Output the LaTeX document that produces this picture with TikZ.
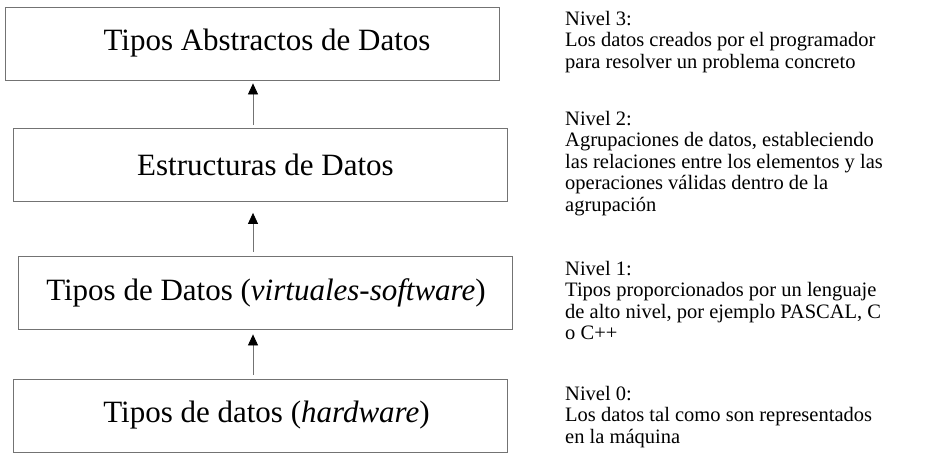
\documentclass[tikz,border=0pt]{standalone}
\usepackage{fontspec}
\setmainfont{Liberation Serif}
\usetikzlibrary{arrows.meta}
\tikzset{
	caja/.style={draw=black!55, line width=0.8pt, minimum width=494pt, minimum height=73pt, inner sep=0pt},
	rotulo/.style={inner sep=0pt, font=\fontsize{31}{37}\selectfont},
	nivel/.style={anchor=north west, align=left, inner sep=0pt, font=\fontsize{20.5}{21.4}\selectfont},
	flecha/.style={draw=black!55, line width=0.8pt, -{Triangle[width=10pt,length=11pt,color=black]}}
}

\begin{document}
\begin{tikzpicture}[x=1pt, y=-1pt]
			%%%%% START %%%%%
			\useasboundingbox (0, 0) rectangle (938, 474);
			
			\node[caja, label={[rotulo, xshift=14.5pt]center:Tipos Abstractos de Datos}] (tad) at (252.5, 43.5) {};
			\node[caja, label={[rotulo, xshift=5.5pt]center:Estructuras de Datos}] (est) at (260, 165) {};
			\node[caja, label={[rotulo, xshift=1pt]center:Tipos de Datos (\textit{virtuales-software})}] (virt) at (265, 292.5) {};
			\node[caja, label={[rotulo, xshift=6.5pt]center:Tipos de datos (\textit{hardware})}] (hard) at (260, 415.5) {};
			
			\coordinate (eje) at (253, 0);
			\draw[flecha, shorten <=3pt, shorten >=3pt] (est.north -| eje) -- (tad.south -| eje);
			\draw[flecha, shorten <=4pt, shorten >=11pt] (virt.north -| eje) -- (est.south -| eje);
			\draw[flecha, shorten <=4pt, shorten >=5pt] (hard.north -| eje) -- (virt.south -| eje);
			
			\node[nivel] (n3) at (565, 11) {Nivel 3:\\Los datos creados por el programador\\para resolver un problema concreto};
			\node[nivel] (n2) at (565, 111) {Nivel 2:\\Agrupaciones de datos, estableciendo\\las relaciones entre los elementos y las\\operaciones válidas dentro de la\\agrupación};
			\node[nivel] (n1) at (565, 261) {Nivel 1:\\Tipos proporcionados por un lenguaje\\de alto nivel, por ejemplo PASCAL, C\\o C++};
			\node[nivel] (n0) at (565, 386) {Nivel 0:\\Los datos tal como son representados\\en la máquina};
			
			%%%%% END %%%%%
		\end{tikzpicture}
\end{document}
